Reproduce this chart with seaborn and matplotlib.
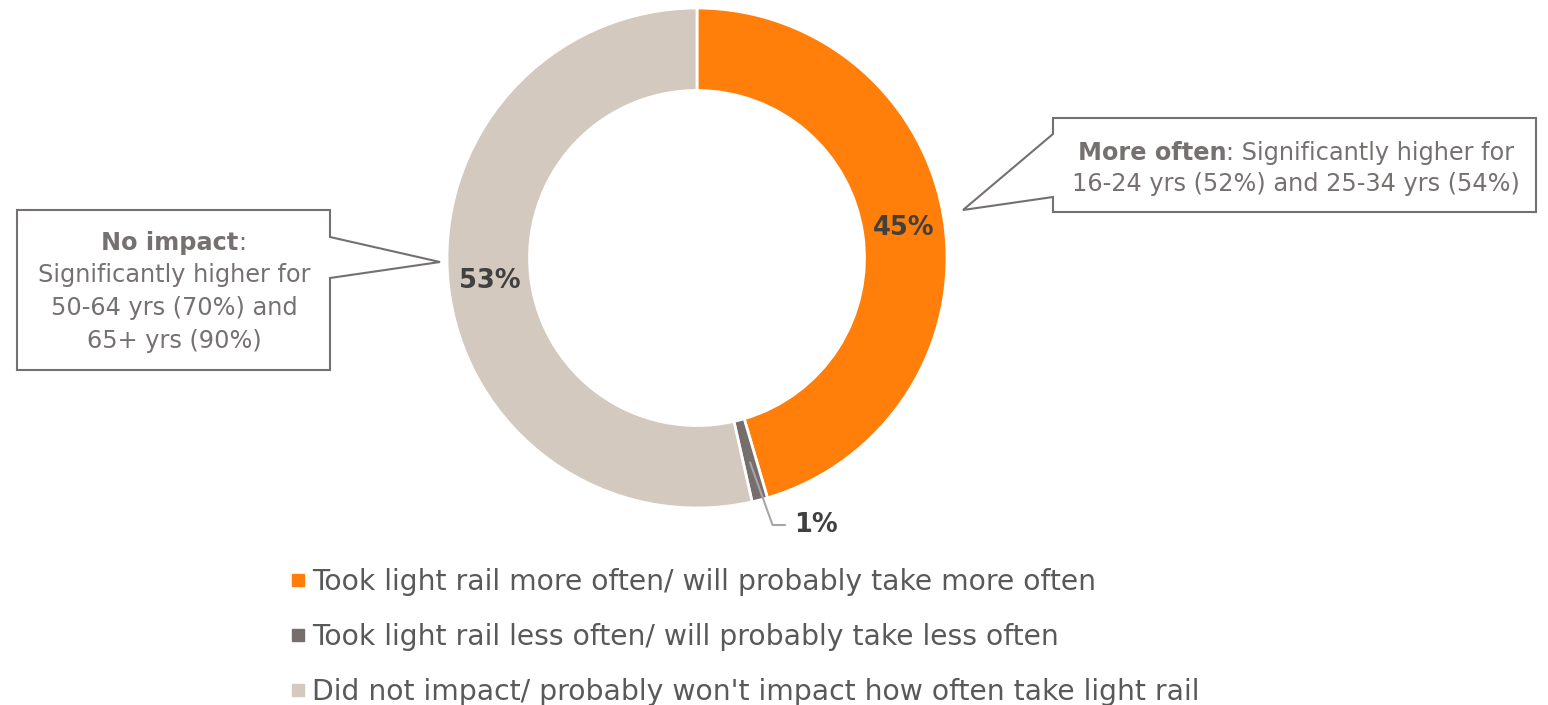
import matplotlib
matplotlib.use("Agg")
import matplotlib.pyplot as plt
import seaborn as sns
import numpy as np
from matplotlib.patches import Polygon
from matplotlib.lines import Line2D

# ---- data ----
categories = ["Took light rail more often/ will probably take more often",
              "Took light rail less often/ will probably take less often",
              "Did not impact/ probably won't impact how often take light rail"]
values = [45, 1, 53]
colors = ["#FF7F0A", "#766D6D", "#D3C9BF"]
callout_right_bold = "More often"
callout_right_rest = ": Significantly higher for"
callout_right_line2 = "16-24 yrs (52%) and 25-34 yrs (54%)"
callout_left_bold = "No impact"
callout_left_lines = ["Significantly higher for", "50-64 yrs (70%) and", "65+ yrs (90%)"]

sns.set_theme(style="white")
plt.rcParams['font.family'] = ['DejaVu Sans']

TXT = "#767171"
LBL = "#404040"
LEG = "#595959"

W, H = 1548, 705
fig = plt.figure(figsize=(W / 100, H / 100), dpi=100)
fig.patch.set_facecolor("white")


def px(x, y):
    return (x / W, 1 - y / H)


cx, cy, R = 697, 258, 250
ax = fig.add_axes([(cx - R) / W, (H - cy - R) / H, 2 * R / W, 2 * R / H])
ring = 0.33
wedges, _ = ax.pie(values, colors=colors, startangle=90, counterclock=False,
                   radius=1, wedgeprops=dict(width=ring, edgecolor="white", linewidth=2))
ax.set_xlim(-1, 1)
ax.set_ylim(-1, 1)
ax.set_aspect("equal")
ax.axis("off")

rmid = 1 - ring / 2
for i, w in enumerate(wedges):
    mid = np.deg2rad((w.theta1 + w.theta2) / 2)
    lab = f"{values[i]}%"
    if i == 1:
        x0, y0 = 0.845 * np.cos(mid), 0.845 * np.sin(mid)
        x1, y1 = x0 + 0.09, -1.068
        x2 = x1 + 0.05
        ax.plot([x0, x1, x2], [y0, y1, y1], color="#A6A6A6", lw=1.5, clip_on=False)
        ax.text(x2 + 0.035, y1, lab, ha="left", va="center", fontsize=18.5,
                fontweight="bold", color=LBL)
    else:
        ax.text(rmid * np.cos(mid), rmid * np.sin(mid), lab, ha="center", va="center",
                fontsize=18.5, fontweight="bold", color=LBL)

# ---- callout boxes ----
right_poly = [(1053, 118), (1536, 118), (1536, 212), (1053, 212), (1053, 197),
              (963, 210), (1053, 134)]
left_poly = [(17, 210), (330, 210), (330, 237), (440, 262), (330, 278),
             (330, 370), (17, 370)]
for poly in (right_poly, left_poly):
    fig.patches.append(Polygon([px(*p) for p in poly], closed=True, transform=fig.transFigure,
                               facecolor="white", edgecolor="#757070", lw=1.5, zorder=3))

fs_c = 17.3
renderer = fig.canvas.get_renderer()


def mixed_line(bold, rest, xc, y):
    t1 = fig.text(0, 0, bold, fontsize=fs_c, fontweight="bold", color=TXT,
                  ha="left", va="center", zorder=5)
    t2 = fig.text(0, 0, rest, fontsize=fs_c, color=TXT, ha="left", va="center", zorder=5)
    w1 = t1.get_window_extent(renderer).width
    w2 = t2.get_window_extent(renderer).width
    x0 = xc - (w1 + w2) / 2
    t1.set_position(px(x0, y))
    t2.set_position(px(x0 + w1, y))


mixed_line(callout_right_bold, callout_right_rest, 1296, 153)
fig.text(*px(1296, 184), callout_right_line2, fontsize=fs_c, color=TXT,
         ha="center", va="center", zorder=5)

mixed_line(callout_left_bold, ":", 174, 243)
for k, line in enumerate(callout_left_lines):
    fig.text(*px(174, 275 + 33 * k), line, fontsize=fs_c, color=TXT,
             ha="center", va="center", zorder=5)

# ---- legend ----
handles = [Line2D([], [], marker="s", linestyle="none", markersize=9, color=c) for c in colors]
leg = fig.legend(handles, categories, loc="upper left", bbox_to_anchor=px(289.5, 568),
                 frameon=False, fontsize=20.3, handlelength=0.6, handletextpad=0.2,
                 labelspacing=0.95, borderaxespad=0, borderpad=0)
for t in leg.get_texts():
    t.set_color(LEG)

fig.savefig("out.png", dpi=100, facecolor="white")
